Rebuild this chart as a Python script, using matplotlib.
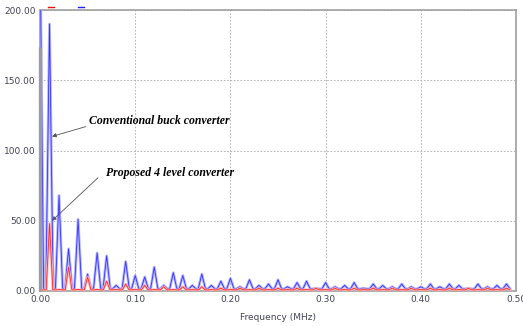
import numpy as np
import matplotlib
matplotlib.use("Agg")
from matplotlib import pyplot as plt
from matplotlib.lines import Line2D

# harmonic spectrum, fundamental spacing 0.01 MHz
fundamental = 0.01
harmonic_order = list(range(1, 50))
dc_level = 250.0
dc_reference_level = 174.0

buck_amp = [190, 68, 30, 51, 12, 27, 25, 4, 21, 11,
            10, 17, 4, 13, 11, 4, 12, 4, 7, 9,
            3, 8, 4, 5, 8, 3, 6, 7, 2, 6,
            3, 4, 6, 2, 5, 4, 3, 5, 3, 3,
            5, 3, 5, 4, 2, 5, 3, 4, 5]
four_level_amp = [48, 1, 17, 1, 10, 1, 7, 1, 5, 1,
                  4, 1, 3, 1, 3, 1, 3, 1, 2, 1,
                  2, 1, 2, 1, 2, 1, 2, 1, 2, 1,
                  2, 1, 2, 1, 2, 1, 2, 1, 2, 1,
                  2, 1, 2, 1, 2, 1, 2, 1, 2]

x_ticks = [0.0, 0.1, 0.2, 0.3, 0.4, 0.5]
y_ticks = [0, 50, 100, 150, 200]


def spectrum_line(amps, floor, half_width, dc=dc_level):
    """Turn a list of harmonic amplitudes into a peaked polyline."""
    xs = [0.0, half_width]
    ys = [dc, floor]
    for k, a in zip(harmonic_order, amps):
        f = k * fundamental
        xs += [f - half_width, f, f + half_width]
        ys += [floor, a, floor]
    return np.array(xs), np.array(ys)


fig = plt.figure(figsize=(5.23, 3.26), dpi=100)
ax = fig.add_axes([40 / 523, 1 - 291 / 326, 476 / 523, 281 / 326])

bx, by = spectrum_line(buck_amp, 1.5, 0.0038)
rx, ry = spectrum_line(four_level_amp, 0.8, 0.0035, dc=0.8)

# soft halo under each trace, then a thin core line
ax.plot(bx, by, color="#b4b4ff", lw=2.0, zorder=3)
ax.plot(bx, by, color="#3333ff", lw=0.6, zorder=4)
ax.plot(rx, ry, color="#ffb4b4", lw=1.8, zorder=5)
ax.plot(rx, ry, color="#ff2a2a", lw=0.6, zorder=6)
ax.plot([0, 0], [0, dc_reference_level], color="#9a9aa8", lw=2.4, zorder=7,
        clip_on=False, solid_capstyle="butt")

ax.set_xlim(0, 0.5)
ax.set_ylim(0, 200)
ax.set_xticks(x_ticks)
ax.set_yticks(y_ticks)
ax.set_xticklabels([f"{v:.2f}" for v in x_ticks])
ax.set_yticklabels([f"{v:.2f}" for v in y_ticks])
ax.tick_params(length=0, labelsize=6.5, colors="#444455", pad=3)
ax.grid(True, color="#aaaaaa", linestyle=(0, (2, 2)), linewidth=0.6)
for s in ax.spines.values():
    s.set_color("#a0a0a0")
    s.set_linewidth(1.2)
ax.set_xlabel("Frequency (MHz)", fontsize=6.5, color="#444455", labelpad=6)

serif = dict(family="Liberation Serif", weight="bold", style="italic", fontsize=8.5)
ax.annotate("Conventional buck converter", xy=(0.0126, 110), xytext=(0.051, 121),
            va="center", ha="left", **serif,
            arrowprops=dict(arrowstyle="-|>", color="#555555", lw=0.6,
                            mutation_scale=6, shrinkA=0, shrinkB=0,
                            relpos=(0, 0.1)))
ax.annotate("Proposed 4 level converter", xy=(0.0126, 50), xytext=(0.069, 84),
            va="center", ha="left", **serif,
            arrowprops=dict(arrowstyle="-|>", color="#555555", lw=0.6,
                            mutation_scale=6, shrinkA=0, shrinkB=0,
                            relpos=(-0.06, 0.1)))

# legend swatches above the plot frame
fig.add_artist(Line2D([48 / 523, 54 / 523], [0.978, 0.978], color="#ee1111", lw=1))
fig.add_artist(Line2D([78 / 523, 84 / 523], [0.978, 0.978], color="#2222ff", lw=1))

fig.savefig("out.png", dpi=100)
